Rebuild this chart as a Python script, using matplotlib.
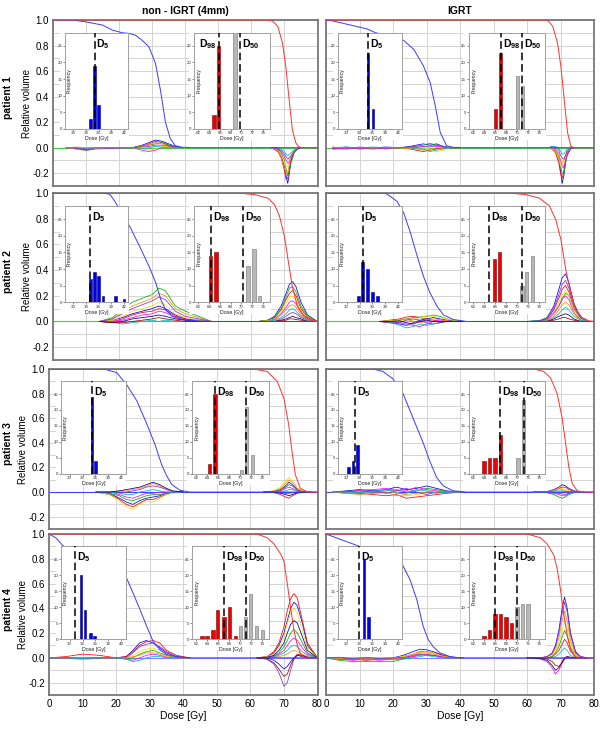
import matplotlib
matplotlib.use('Agg')
import matplotlib.pyplot as plt
from matplotlib.patches import Rectangle
from matplotlib.ticker import MultipleLocator, FixedLocator

plt.rcParams['font.family'] = ['Liberation Sans', 'DejaVu Sans']
plt.rcParams['mathtext.fontset'] = 'custom'
plt.rcParams['mathtext.rm'] = 'Liberation Sans'
plt.rcParams['mathtext.bf'] = 'Liberation Sans:bold'

# ---------------- DATA ----------------
col_titles = ['non - IGRT (4mm)', 'IGRT']
row_labels = ['patient 1', 'patient 2', 'patient 3', 'patient 4']

# ---- patient 1, non-IGRT ----
p1n_blue_x = [0, 6, 10, 15, 18, 21, 23, 25, 27, 29, 31, 32.5, 34, 35.5, 37, 39, 42, 80]
p1n_blue_y = [1, 1, 0.985, 0.96, 0.92, 0.90, 0.895, 0.88, 0.84, 0.79, 0.66, 0.45, 0.2, 0.07, 0.015, 0.004, 0, 0]
p1n_red_x = [0, 65, 66.5, 68, 69.4, 70.4, 71.4, 72.4, 73.4, 74.2, 75, 80]
p1n_red_y = [1, 1, 0.99, 0.95, 0.82, 0.64, 0.38, 0.14, 0.04, 0.01, 0, 0]
p1n_low_x = [4, 7, 10, 13, 24, 27, 29, 31, 33, 35, 37, 39]
p1n_low = [
    [0, -0.01, -0.02, 0, 0, 0.02, 0.04, 0.06, 0.05, 0.03, 0.01, 0],
    [0, -0.005, -0.01, 0, 0, 0.01, 0.03, 0.05, 0.04, 0.02, 0.005, 0],
    [0, 0, -0.015, 0, 0, 0.015, 0.02, 0.03, 0.04, 0.02, 0, 0],
    [0, -0.01, -0.025, -0.005, 0, -0.01, -0.02, -0.01, 0.01, 0.01, 0, 0],
    [0, 0, -0.01, 0, 0, -0.02, -0.03, -0.02, 0, 0.005, 0, 0],
    [0, 0.005, 0, 0, 0, 0.01, 0.02, 0.04, 0.03, 0.01, 0, 0],
    [0, -0.005, -0.02, -0.01, 0, 0.005, 0.01, 0.02, 0.02, 0.015, 0.005, 0],
    [0, 0, -0.005, 0, 0, -0.005, 0.0, 0.01, 0.005, 0, 0, 0],
]
p1n_high_x = [66, 68, 69, 70, 70.5, 71, 71.5, 72, 73, 74, 75]
p1n_high = [
    [0, -0.02, -0.06, -0.15, -0.22, -0.28, -0.2, -0.1, -0.03, -0.01, 0],
    [0, -0.03, -0.08, -0.18, -0.25, -0.24, -0.16, -0.08, -0.02, 0, 0],
    [0, -0.01, -0.04, -0.1, -0.17, -0.22, -0.18, -0.12, -0.04, -0.01, 0],
    [0, -0.02, -0.05, -0.12, -0.15, -0.14, -0.1, -0.06, -0.02, 0, 0],
    [0, -0.01, -0.03, -0.07, -0.1, -0.12, -0.11, -0.08, -0.03, -0.01, 0],
    [0, -0.02, -0.07, -0.16, -0.2, -0.19, -0.13, -0.07, -0.02, 0, 0],
    [0, -0.01, -0.02, -0.05, -0.07, -0.09, -0.08, -0.06, -0.03, -0.01, 0],
    [0, 0, -0.01, -0.03, -0.05, -0.06, -0.05, -0.04, -0.02, 0, 0],
]
p1n_d5_pos, p1n_d5_freq, p1n_d5_line = [34, 35, 36], [3, 19, 7], 35.0
p1n_d98_pos, p1n_d98_freq, p1n_d98_line = [64.9, 65.8], [4, 25], 65.8
p1n_d50_pos, p1n_d50_freq, p1n_d50_line = [68.8], [30], 69.8

# ---- patient 1, IGRT ----
p1i_blue_x = [0, 0.5, 2.5, 7.4, 12.3, 14.8, 20.2, 23.2, 26.2, 29.1, 31.1, 32.6, 34.1, 36, 38, 40, 80]
p1i_blue_y = [1, 1, 0.99, 0.96, 0.93, 0.9, 0.87, 0.84, 0.77, 0.64, 0.51, 0.33, 0.12, 0.015, 0.003, 0, 0]
p1i_red_x = [0, 65.2, 66.5, 67.7, 69.1, 70.1, 71.1, 72.1, 73.1, 74, 80]
p1i_red_y = [1, 1, 0.99, 0.95, 0.82, 0.64, 0.38, 0.12, 0.01, 0, 0]
p1i_low_x = [2, 6, 10, 14, 18, 22, 25, 27, 29, 31, 33, 35, 37, 40]
p1i_low = [
    [-0.005, 0.005, -0.005, 0, 0.005, 0, 0.01, 0.02, 0.03, 0.02, 0.03, 0.01, 0, 0],
    [0.005, -0.005, 0, -0.005, 0, 0, -0.01, -0.02, -0.03, -0.02, -0.01, 0, 0, 0],
    [-0.01, 0, -0.01, -0.005, -0.005, 0, 0.005, 0.01, 0.02, 0.035, 0.02, 0.01, 0, 0],
    [0, -0.01, -0.005, -0.01, 0, 0, -0.005, -0.01, 0, -0.01, -0.03, -0.02, 0, 0],
    [-0.005, -0.005, 0.005, 0, -0.005, 0, 0, 0.015, 0.01, 0.015, 0.01, 0.005, 0, 0],
    [0, 0, -0.01, 0, -0.01, 0, -0.01, -0.005, -0.02, -0.015, 0, -0.005, 0, 0],
    [-0.01, -0.01, -0.005, -0.01, -0.005, 0, 0.005, 0, 0.01, 0.005, 0.02, 0.01, 0, 0],
    [0, 0.005, 0, 0.005, 0, 0, 0, -0.01, -0.01, -0.03, -0.02, -0.01, 0, 0],
]
p1i_high_x = [67, 68.5, 69.5, 70, 70.5, 71, 71.5, 72, 73, 74]
p1i_high = [
    [0, -0.03, -0.1, -0.18, -0.28, -0.22, -0.12, -0.05, -0.01, 0],
    [0, -0.04, -0.12, -0.2, -0.24, -0.18, -0.1, -0.04, -0.01, 0],
    [0, -0.02, -0.08, -0.15, -0.2, -0.2, -0.12, -0.06, -0.01, 0],
    [0, -0.03, -0.09, -0.14, -0.16, -0.14, -0.08, -0.03, 0, 0],
    [0, -0.01, -0.05, -0.1, -0.14, -0.16, -0.1, -0.05, -0.01, 0],
    [0, -0.02, -0.06, -0.11, -0.12, -0.1, -0.06, -0.02, 0, 0],
    [0.01, 0.005, -0.02, -0.06, -0.08, -0.09, -0.06, -0.03, 0, 0],
    [0.005, 0.01, 0.0, -0.03, -0.05, -0.05, -0.03, -0.01, 0, 0],
]
p1i_d5_pos, p1i_d5_freq, p1i_d5_line = [35.0, 36.1], [23, 6], 35.0
p1i_d98_pos, p1i_d98_freq, p1i_d98_line = [66.1, 67.0], [6, 23], 67.1
p1i_d50_pos, p1i_d50_freq, p1i_d50_line = [70.1, 71.0], [16, 13], 71.0

# ---- patient 2, non-IGRT ----
p2n_blue_x = [0, 15.2, 17.2, 18.7, 20.2, 23.2, 26.2, 29.2, 31.1, 32.6, 34.1, 36.1, 39.1, 43, 48, 80]
p2n_blue_y = [1, 1, 0.99, 0.935, 0.87, 0.74, 0.585, 0.42, 0.30, 0.17, 0.09, 0.04, 0.016, 0.005, 0, 0]
p2n_red_x = [0, 56, 61, 65, 67, 68.5, 70, 71.4, 72.4, 73.9, 75.9, 77.9, 80]
p2n_red_y = [1, 1, 0.987, 0.96, 0.91, 0.82, 0.66, 0.43, 0.27, 0.12, 0.04, 0.01, 0]
p2n_low_x = [14, 18, 21, 24, 27, 30, 32, 34, 37, 40, 44, 48]
p2n_low = [
    [0, 0.01, 0.03, 0.06, 0.08, 0.1, 0.12, 0.1, 0.05, 0.02, 0.01, 0],
    [0, 0.0, 0.02, 0.05, 0.07, 0.08, 0.1, 0.09, 0.04, 0.02, 0, 0],
    [0, 0.03, 0.1, 0.15, 0.18, 0.21, 0.26, 0.24, 0.12, 0.08, 0.04, 0],
    [0, 0.01, 0.04, 0.08, 0.1, 0.12, 0.15, 0.13, 0.06, 0.03, 0.01, 0],
    [0, 0, 0.01, 0.03, 0.05, 0.06, 0.08, 0.07, 0.03, 0.01, 0, 0],
    [0, 0.02, 0.08, 0.12, 0.15, 0.18, 0.22, 0.2, 0.1, 0.06, 0.03, 0],
    [0, 0.02, 0.06, 0.1, 0.13, 0.16, 0.19, 0.17, 0.08, 0.04, 0.02, 0],
    [0, -0.005, -0.02, -0.01, 0, 0.01, 0.0, 0.01, 0, 0, 0, 0],
    [0, -0.01, 0.0, 0.02, 0.03, 0.04, 0.05, 0.04, 0.02, 0.01, 0, 0],
    [0, -0.01, -0.01, 0.0, 0.01, 0.02, 0.03, 0.02, 0.01, 0, 0, 0],
]
p2n_high_x = [62, 65, 67, 69, 70.5, 71.5, 72.5, 73.5, 75, 77, 80]
p2n_high = [
    [0, 0.01, 0.04, 0.12, 0.22, 0.29, 0.31, 0.27, 0.15, 0.05, 0],
    [0, 0.01, 0.03, 0.09, 0.17, 0.22, 0.24, 0.2, 0.1, 0.03, 0],
    [0, 0.01, 0.03, 0.1, 0.19, 0.26, 0.27, 0.23, 0.12, 0.04, 0],
    [0, 0.005, 0.02, 0.07, 0.14, 0.19, 0.2, 0.17, 0.08, 0.02, 0],
    [0, 0, 0.02, 0.06, 0.11, 0.15, 0.16, 0.14, 0.07, 0.02, 0],
    [0, 0, 0.01, 0.05, 0.09, 0.12, 0.13, 0.11, 0.05, 0.01, 0],
    [0, 0, 0.0, 0.02, 0.04, 0.06, 0.07, 0.06, 0.03, 0.01, 0],
    [0, 0, 0.01, 0.03, 0.06, 0.09, 0.1, 0.08, 0.04, 0.01, 0],
    [0, 0, 0, 0.01, 0.02, 0.03, 0.04, 0.03, 0.02, 0, 0],
    [0, 0, 0, 0.005, 0.01, 0.02, 0.02, 0.015, 0.01, 0, 0],
]
p2n_d5_pos, p2n_d5_freq, p2n_d5_line = [34, 35, 36, 37, 40, 42], [7, 9, 8, 2, 2, 1], 34.0
p2n_d98_pos, p2n_d98_freq, p2n_d98_line = [64.3, 65.3], [14, 15], 64.3
p2n_d50_pos, p2n_d50_freq, p2n_d50_line = [71.2, 72.3, 73.3], [11, 16, 2], 70.3

# ---- patient 2, IGRT ----
p2i_blue_x = [0, 17.3, 18.3, 21.2, 23.2, 25.2, 27.2, 29.1, 31.1, 33.1, 35.1, 38, 42, 80]
p2i_blue_y = [1, 1, 0.99, 0.935, 0.845, 0.69, 0.51, 0.35, 0.22, 0.12, 0.05, 0.015, 0, 0]
p2i_red_x = [0, 54.8, 59.8, 63.7, 66.7, 68.6, 70.1, 71.6, 73.1, 74.6, 76.5, 78.5, 80]
p2i_red_y = [1, 1, 0.987, 0.96, 0.9, 0.79, 0.64, 0.4, 0.22, 0.09, 0.03, 0.005, 0]
p2i_low_x = [16, 19, 22, 24, 26, 28, 30, 32, 34, 36, 38, 41]
p2i_low = [
    [0, -0.01, -0.02, -0.03, -0.01, 0.01, 0.02, 0.03, 0.02, 0.01, 0.005, 0],
    [0, 0.01, 0.02, 0.035, 0.04, 0.03, 0.02, 0.01, 0.0, 0.0, 0, 0],
    [0, 0.005, 0.01, 0.02, 0.03, 0.035, 0.04, 0.05, 0.04, 0.02, 0.005, 0],
    [0, 0.005, 0.01, 0.0, 0.01, 0.03, 0.045, 0.04, 0.03, 0.02, 0.01, 0],
    [0, -0.01, -0.01, -0.02, -0.03, -0.04, -0.02, 0.0, 0.01, 0.005, 0, 0],
    [0, 0, 0.015, 0.02, 0.0, -0.01, 0.0, 0.02, 0.015, 0.005, 0, 0],
    [0, -0.005, -0.01, 0.01, 0.02, 0.01, -0.01, -0.02, -0.01, 0, 0, 0],
    [0, -0.005, -0.03, -0.05, -0.04, -0.02, -0.03, -0.02, -0.01, 0, 0, 0],
    [0, 0, 0.005, -0.01, -0.02, 0.0, 0.01, 0.0, -0.005, 0, 0, 0],
]
p2i_high_x = [60, 64, 66, 68, 69.5, 70.5, 71.5, 72.5, 74, 76, 78]
p2i_high = [
    [0, 0.005, 0.03, 0.12, 0.25, 0.34, 0.37, 0.3, 0.14, 0.03, 0],
    [0, 0, 0.02, 0.09, 0.18, 0.25, 0.28, 0.23, 0.1, 0.02, 0],
    [0, 0.01, 0.03, 0.07, 0.12, 0.18, 0.22, 0.2, 0.1, 0.02, 0],
    [0, 0, 0.015, 0.07, 0.15, 0.21, 0.24, 0.2, 0.09, 0.02, 0],
    [0, 0, 0.01, 0.06, 0.12, 0.17, 0.2, 0.17, 0.07, 0.01, 0],
    [0, 0, 0.01, 0.04, 0.09, 0.13, 0.15, 0.13, 0.06, 0.01, 0],
    [0, 0.005, 0.02, 0.1, 0.21, 0.29, 0.32, 0.26, 0.12, 0.03, 0],
    [0, 0, 0.005, 0.03, 0.06, 0.09, 0.11, 0.09, 0.04, 0.01, 0],
    [0, 0, 0, 0.02, 0.04, 0.05, 0.06, 0.05, 0.02, 0, 0],
    [0, 0, 0, 0.01, 0.02, 0.03, 0.03, 0.02, 0.01, 0, 0],
]
p2i_d5_pos, p2i_d5_freq, p2i_d5_line = [32.7, 33.7, 34.9, 36.0, 37.2], [2, 12, 10, 3, 2], 33.7
p2i_d98_pos, p2i_d98_freq, p2i_d98_line = [65.9, 66.8], [13, 15], 64.9
p2i_d50_pos, p2i_d50_freq, p2i_d50_line = [70.9, 71.8, 72.8], [5, 9, 14], 70.9

# ---- patient 3, non-IGRT ----
p3n_blue_x = [0, 14.7, 17, 20.2, 23.2, 26.2, 29.2, 31.6, 33.6, 35.1, 36.6, 39.1, 42, 80]
p3n_blue_y = [1, 1, 0.995, 0.97, 0.87, 0.74, 0.55, 0.385, 0.22, 0.13, 0.06, 0.014, 0, 0]
p3n_red_x = [0, 56, 62, 65, 68, 70, 71.4, 72.4, 73.4, 74.9, 77, 80]
p3n_red_y = [1, 1, 0.995, 0.98, 0.9, 0.76, 0.55, 0.33, 0.14, 0.03, 0, 0]
p3n_low_x = [14, 18, 21, 23, 25, 27, 29, 31, 33, 35, 37, 40]
p3n_low = [
    [0, -0.01, -0.05, -0.08, -0.1, -0.07, -0.05, -0.04, -0.03, -0.01, 0, 0],
    [0, -0.02, -0.06, -0.1, -0.12, -0.09, -0.06, -0.06, -0.04, -0.02, 0, 0],
    [0, -0.01, -0.03, -0.06, -0.07, -0.05, -0.03, -0.02, -0.02, -0.01, 0, 0],
    [0, -0.02, -0.07, -0.12, -0.14, -0.1, -0.07, -0.08, -0.05, -0.02, -0.01, 0],
    [0, 0, -0.02, -0.04, -0.05, -0.03, -0.01, -0.01, 0, 0, 0, 0],
    [0, 0, 0.01, 0.01, 0.02, 0.03, 0.05, 0.07, 0.05, 0.02, 0.005, 0],
    [0, 0, 0.0, 0.0, 0.01, 0.02, 0.04, 0.05, 0.04, 0.02, 0, 0],
    [0, 0, -0.01, -0.02, -0.02, 0.0, 0.01, 0.02, 0.01, 0, 0, 0],
    [0, 0, 0.01, 0.02, 0.03, 0.04, 0.06, 0.08, 0.06, 0.03, 0.01, 0],
]
p3n_high_x = [64, 67, 69, 70.5, 71.5, 72.5, 74, 76, 78]
p3n_high = [
    [0, 0.005, 0.02, 0.05, 0.08, 0.06, 0.02, 0, 0],
    [0, -0.005, -0.02, -0.04, -0.05, -0.03, -0.01, 0, 0],
    [0, 0, 0.015, 0.04, 0.06, 0.05, 0.015, 0, 0],
    [0, 0.01, 0.04, 0.09, 0.12, 0.09, 0.03, 0.005, 0],
    [0, 0, 0.01, 0.03, 0.04, 0.03, 0.01, 0, 0],
    [0, 0.01, 0.03, 0.07, 0.1, 0.08, 0.03, 0.005, 0],
    [0, 0, -0.005, -0.01, -0.01, -0.005, 0, 0, 0],
    [0, 0, 0.005, 0.01, 0.02, 0.02, 0.005, 0, 0],
    [0, 0, -0.01, -0.02, -0.03, -0.02, -0.005, 0, 0],
]
p3n_d5_pos, p3n_d5_freq, p3n_d5_line = [35.2, 36.0], [24, 4], 35.2
p3n_d98_pos, p3n_d98_freq, p3n_d98_line = [64.4, 65.4], [3, 25], 65.4
p3n_d50_pos, p3n_d50_freq, p3n_d50_line = [70.2, 71.1, 72.2], [1, 21, 6], 71.1

# ---- patient 3, IGRT ----
p3i_blue_x = [0, 14, 17, 20, 23, 26, 29, 31, 33, 35, 38, 42, 80]
p3i_blue_y = [1, 1, 0.98, 0.92, 0.8, 0.6, 0.4, 0.25, 0.12, 0.05, 0.01, 0, 0]
p3i_red_x = [0, 62, 65, 67, 69, 70.5, 71.5, 72.5, 73.5, 75, 77, 80]
p3i_red_y = [1, 1, 0.98, 0.93, 0.8, 0.6, 0.4, 0.2, 0.07, 0.01, 0, 0]
p3i_low_x = [2, 6, 10, 14, 18, 21, 24, 27, 30, 33, 36, 40]
p3i_low = [
    [0, 0.01, 0.02, 0.01, 0.02, 0.04, 0.02, 0.03, 0.05, 0.03, 0.01, 0],
    [0, -0.01, -0.01, -0.02, -0.03, -0.02, -0.05, -0.04, -0.03, -0.02, -0.01, 0],
    [0, 0.005, 0.01, 0.0, 0.01, 0.02, 0.0, 0.01, 0.03, 0.02, 0.005, 0],
    [0, -0.005, 0.0, -0.01, -0.01, 0.0, -0.03, -0.02, -0.01, -0.005, 0, 0],
    [0, 0.0, 0.015, 0.02, 0.03, 0.01, 0.01, 0.04, 0.02, 0.01, 0, 0],
    [0, -0.01, -0.02, -0.01, 0.0, -0.03, -0.02, -0.01, 0.0, 0.01, 0, 0],
    [0, 0.005, 0.0, 0.01, -0.01, 0.01, 0.03, 0.0, -0.02, 0.0, 0, 0],
    [0, 0, -0.005, 0.005, 0.02, -0.01, -0.01, 0.02, 0.01, -0.01, 0, 0],
]
p3i_high_x = [62, 66, 68, 69.5, 70.5, 71.5, 72.5, 74, 77]
p3i_high = [
    [0, 0.005, 0.02, 0.04, 0.06, 0.05, 0.03, 0.01, 0],
    [0, 0.0, 0.01, 0.03, 0.04, 0.04, 0.02, 0.005, 0],
    [0, -0.005, -0.02, -0.04, -0.05, -0.04, -0.02, -0.005, 0],
    [0, 0.0, 0.005, 0.02, 0.03, 0.02, 0.01, 0, 0],
    [0, -0.005, -0.01, -0.02, -0.03, -0.03, -0.01, 0, 0],
    [0, 0.0, 0.015, 0.03, 0.02, 0.01, 0.005, 0, 0],
    [0, 0, -0.005, -0.01, -0.015, -0.02, -0.01, 0, 0],
    [0, 0, 0.01, 0.01, 0.01, 0.005, 0, 0, 0],
]
p3i_d5_pos, p3i_d5_freq, p3i_d5_line = [30.5, 31.5, 32.5], [2, 4, 9], 32.0
p3i_d98_pos, p3i_d98_freq, p3i_d98_line = [64.0, 65.0, 66.0, 67.0], [4, 5, 5, 12], 67.0
p3i_d50_pos, p3i_d50_freq, p3i_d50_line = [70.2, 71.2], [5, 23], 71.2

# ---- patient 4, non-IGRT ----
p4n_blue_x = [0, 2, 4, 6, 10, 15, 20, 23.1, 25.1, 27.1, 29.1, 31, 33, 35, 38, 42, 80]
p4n_blue_y = [1, 0.97, 0.91, 0.87, 0.84, 0.79, 0.72, 0.645, 0.52, 0.39, 0.255, 0.134, 0.067, 0.027, 0.008, 0, 0]
p4n_red_x = [0, 62, 65, 67, 69, 70, 71, 72, 73, 74, 75, 76, 80]
p4n_red_y = [1, 1, 0.97, 0.92, 0.84, 0.78, 0.6, 0.4, 0.22, 0.1, 0.03, 0, 0]
p4n_low_x = [0, 5, 10, 15, 20, 23, 25, 27, 29, 31, 33, 35, 38, 42]
p4n_low = [
    [0, 0, 0, 0, 0, 0.01, 0.06, 0.12, 0.14, 0.12, 0.08, 0.04, 0.01, 0],
    [0, 0.01, 0.03, 0.02, 0.0, 0.01, 0.05, 0.1, 0.13, 0.14, 0.12, 0.06, 0.02, 0],
    [0, -0.005, -0.01, -0.005, 0, -0.01, 0.0, 0.03, 0.05, 0.06, 0.04, 0.02, 0, 0],
    [0, 0, 0, 0, 0, 0.0, 0.02, 0.05, 0.07, 0.08, 0.06, 0.03, 0.005, 0],
    [0, 0, 0, 0, 0, -0.01, -0.02, 0.0, 0.02, 0.03, 0.02, 0.005, 0, 0],
    [0, 0, 0, 0, 0, -0.005, 0.01, 0.02, 0.04, 0.04, 0.03, 0.01, 0, 0],
    [0, 0, -0.005, 0, 0, 0.0, 0.04, 0.09, 0.11, 0.12, 0.09, 0.05, 0.01, 0],
    [0, 0, -0.005, 0, 0, -0.01, -0.03, -0.02, 0.0, 0.01, 0.01, 0, 0, 0],
]
p4n_high_x = [62, 65, 67, 68.5, 70, 71, 72, 73, 74, 75.5, 77, 80]
p4n_high = [
    [0, 0.01, 0.04, 0.1, 0.2, 0.3, 0.4, 0.45, 0.42, 0.28, 0.1, 0],
    [0, 0.01, 0.05, 0.12, 0.25, 0.38, 0.48, 0.52, 0.48, 0.3, 0.12, 0],
    [0, 0, 0.015, 0.04, 0.09, 0.14, 0.2, 0.23, 0.2, 0.12, 0.04, 0],
    [0, 0.01, 0.03, 0.08, 0.17, 0.28, 0.36, 0.4, 0.36, 0.22, 0.08, 0],
    [0, 0, 0.01, 0.03, 0.06, 0.1, 0.14, 0.16, 0.14, 0.08, 0.03, 0],
    [0, 0, 0, 0.01, 0.02, 0.03, 0.05, 0.06, 0.05, 0.03, 0.01, 0],
    [0, -0.01, -0.05, -0.12, -0.23, -0.2, -0.1, -0.01, 0.02, 0.02, 0.005, 0],
    [0, 0, 0.005, 0.02, 0.04, 0.06, 0.09, 0.1, 0.09, 0.05, 0.02, 0],
    [0, 0.005, 0.02, 0.06, 0.12, 0.2, 0.27, 0.3, 0.28, 0.17, 0.06, 0],
    [0, -0.01, -0.04, -0.09, -0.15, -0.13, -0.06, 0.0, 0.03, 0.02, 0.005, 0],
    [0, 0, -0.02, -0.05, -0.09, -0.07, -0.03, 0.0, 0.02, 0.01, 0, 0],
]
p4n_d5_pos, p4n_d5_freq, p4n_d5_line = [32.6, 33.6, 34.8, 35.8], [20, 9, 2, 1], 31.3
p4n_d98_pos = [63.0, 63.9, 65.0, 65.9, 67.0, 68.0, 69.1]
p4n_d98_freq = [1, 1, 3, 9, 7, 10, 1]
p4n_d98_line = 67.0
p4n_d50_pos, p4n_d50_freq, p4n_d50_line = [70.0, 71.0, 71.9, 73.0, 74.0], [4, 7, 14, 4, 3], 71.0

# ---- patient 4, IGRT ----
p4i_blue_x = [0, 5, 10, 15, 20, 22.1, 25.1, 27.1, 29, 30.5, 32, 34, 37, 40, 80]
p4i_blue_y = [1, 0.95, 0.9, 0.86, 0.82, 0.79, 0.63, 0.47, 0.255, 0.148, 0.09, 0.04, 0.01, 0, 0]
p4i_red_x = [0, 60, 64, 66, 68, 69, 70, 71, 72, 73, 74, 75, 80]
p4i_red_y = [1, 1, 0.97, 0.92, 0.83, 0.72, 0.55, 0.35, 0.18, 0.07, 0.02, 0, 0]
p4i_low_x = [0, 4, 8, 12, 16, 20, 23, 26, 28, 30, 32, 35, 38, 41]
p4i_low = [
    [0, 0.0, -0.01, 0.0, -0.005, 0.0, 0.02, 0.05, 0.07, 0.065, 0.05, 0.02, 0.005, 0],
    [0, -0.01, -0.01, -0.02, -0.01, -0.01, 0.01, 0.03, 0.05, 0.05, 0.04, 0.02, 0, 0],
    [0, -0.02, -0.03, -0.03, -0.03, -0.03, -0.01, 0.01, 0.03, 0.03, 0.02, 0.01, 0, 0],
    [0, 0.0, 0.005, 0.0, 0.005, 0.0, 0.01, 0.03, 0.045, 0.05, 0.04, 0.01, 0, 0],
    [0, -0.01, -0.02, -0.01, -0.02, -0.01, 0.0, 0.01, 0.02, 0.025, 0.02, 0.005, 0, 0],
    [0, -0.005, 0.0, -0.01, 0.0, -0.005, 0.0, 0.02, 0.04, 0.04, 0.03, 0.015, 0, 0],
    [0, 0.005, -0.005, 0.005, -0.005, 0.0, 0.0, 0.02, 0.03, 0.02, 0.02, 0.005, 0, 0],
    [0, -0.015, -0.01, -0.015, -0.01, -0.015, -0.01, 0.0, 0.01, 0.02, 0.01, 0, 0, 0],
]
p4i_high_x = [60, 64, 66, 67.5, 68.5, 69.5, 70.5, 71.2, 72, 73, 74.5, 76, 78]
p4i_high = [
    [0, 0, 0.01, 0.04, 0.1, 0.22, 0.4, 0.49, 0.4, 0.2, 0.05, 0.01, 0],
    [0, 0, 0, 0.01, 0.03, 0.06, 0.11, 0.15, 0.12, 0.05, 0.01, 0, 0],
    [0, 0, 0, 0.015, 0.04, 0.09, 0.17, 0.22, 0.18, 0.08, 0.02, 0, 0],
    [0, 0, 0.005, 0.02, 0.05, 0.12, 0.22, 0.3, 0.24, 0.11, 0.02, 0, 0],
    [0, -0.01, -0.03, -0.08, -0.13, -0.1, -0.04, 0.0, 0.01, 0.0, 0, 0, 0],
    [0, 0, 0.01, 0.03, 0.07, 0.16, 0.3, 0.38, 0.3, 0.14, 0.03, 0, 0],
    [0, 0, 0.01, 0.035, 0.09, 0.2, 0.36, 0.45, 0.37, 0.18, 0.04, 0.01, 0],
    [0, 0, 0, 0.005, 0.01, 0.03, 0.06, 0.08, 0.06, 0.02, 0, 0, 0],
    [0, -0.005, -0.02, -0.06, -0.1, -0.08, -0.03, 0.0, 0.01, 0.005, 0, 0, 0],
    [0, 0, -0.01, -0.03, -0.06, -0.07, -0.04, -0.01, 0.0, 0.0, 0, 0, 0],
]
p4i_d5_pos, p4i_d5_freq, p4i_d5_line = [34.0, 35.1], [25, 7], 32.9
p4i_d98_pos, p4i_d98_freq, p4i_d98_line = [64, 65, 66, 67, 68, 69], [1, 3, 8, 8, 7, 5], 66.0
p4i_d50_pos, p4i_d50_freq, p4i_d50_line = [70, 71, 72], [10, 11, 11], 70.0

# ---------------- LAYOUT / STYLE ----------------
W, H = 600, 746
LEFT_X0 = [53, 53, 49, 49]
LEFT_X1 = 317.5
RIGHT_PX = (326, 594)
ROWS_PX = [(20, 186), (193, 360), (369, 529), (534, 695)]
DIFF_COLORS = ['#0000ff', '#ff0000', '#00b000', '#f0e000', '#ff00ff',
               '#ff8c00', '#8a2be2', '#00b8c8', '#000080', '#a00000']
zero_colors = ['#40d040', '#40d040', '#40d040', '#40d040',
               '#4040ff', '#4040ff', '#8080ff', '#8080ff']

panels = [
    (p1n_blue_x, p1n_blue_y, p1n_red_x, p1n_red_y, p1n_low_x, p1n_low, p1n_high_x, p1n_high,
     (p1n_d5_pos, p1n_d5_freq, p1n_d5_line), (p1n_d98_pos, p1n_d98_freq, p1n_d98_line),
     (p1n_d50_pos, p1n_d50_freq, p1n_d50_line), 'left'),
    (p1i_blue_x, p1i_blue_y, p1i_red_x, p1i_red_y, p1i_low_x, p1i_low, p1i_high_x, p1i_high,
     (p1i_d5_pos, p1i_d5_freq, p1i_d5_line), (p1i_d98_pos, p1i_d98_freq, p1i_d98_line),
     (p1i_d50_pos, p1i_d50_freq, p1i_d50_line), 'right'),
    (p2n_blue_x, p2n_blue_y, p2n_red_x, p2n_red_y, p2n_low_x, p2n_low, p2n_high_x, p2n_high,
     (p2n_d5_pos, p2n_d5_freq, p2n_d5_line), (p2n_d98_pos, p2n_d98_freq, p2n_d98_line),
     (p2n_d50_pos, p2n_d50_freq, p2n_d50_line), 'right'),
    (p2i_blue_x, p2i_blue_y, p2i_red_x, p2i_red_y, p2i_low_x, p2i_low, p2i_high_x, p2i_high,
     (p2i_d5_pos, p2i_d5_freq, p2i_d5_line), (p2i_d98_pos, p2i_d98_freq, p2i_d98_line),
     (p2i_d50_pos, p2i_d50_freq, p2i_d50_line), 'right'),
    (p3n_blue_x, p3n_blue_y, p3n_red_x, p3n_red_y, p3n_low_x, p3n_low, p3n_high_x, p3n_high,
     (p3n_d5_pos, p3n_d5_freq, p3n_d5_line), (p3n_d98_pos, p3n_d98_freq, p3n_d98_line),
     (p3n_d50_pos, p3n_d50_freq, p3n_d50_line), 'right'),
    (p3i_blue_x, p3i_blue_y, p3i_red_x, p3i_red_y, p3i_low_x, p3i_low, p3i_high_x, p3i_high,
     (p3i_d5_pos, p3i_d5_freq, p3i_d5_line), (p3i_d98_pos, p3i_d98_freq, p3i_d98_line),
     (p3i_d50_pos, p3i_d50_freq, p3i_d50_line), 'right'),
    (p4n_blue_x, p4n_blue_y, p4n_red_x, p4n_red_y, p4n_low_x, p4n_low, p4n_high_x, p4n_high,
     (p4n_d5_pos, p4n_d5_freq, p4n_d5_line), (p4n_d98_pos, p4n_d98_freq, p4n_d98_line),
     (p4n_d50_pos, p4n_d50_freq, p4n_d50_line), 'right'),
    (p4i_blue_x, p4i_blue_y, p4i_red_x, p4i_red_y, p4i_low_x, p4i_low, p4i_high_x, p4i_high,
     (p4i_d5_pos, p4i_d5_freq, p4i_d5_line), (p4i_d98_pos, p4i_d98_freq, p4i_d98_line),
     (p4i_d50_pos, p4i_d50_freq, p4i_d50_line), 'right'),
]

fig = plt.figure(figsize=(W / 100, H / 100), dpi=100)


def px_rect(x0, x1, y0, y1):
    return [x0 / W, 1 - y1 / H, (x1 - x0) / W, (y1 - y0) / H]


def style_inset(ia, xlim, xticks):
    ia.set_xlim(*xlim)
    ia.set_ylim(0, 29)
    ia.set_xticks(xticks)
    ia.set_yticks([0, 5, 10, 15, 20, 25])
    ia.tick_params(labelsize=3.2, length=1.2, width=0.4, pad=0.8, colors='#303030')
    for s in ia.spines.values():
        s.set_color('#a0a0a0')
        s.set_linewidth(0.7)
    ia.set_xlabel('Dose [Gy]', fontsize=3.8, labelpad=0.6, color='#202020')
    ia.set_ylabel('Frequency', fontsize=3.8, color='#202020')
    ia.yaxis.set_label_coords(0.1, 0.5)
    ia.set_facecolor('white')


def dline(ia, x, label, side):
    ia.axvline(x, color='black', lw=1.1, dashes=(5, 2.5), zorder=4)
    if side == 'left':
        ia.text(x - 0.35, 25.6, label, ha='right', va='center', fontsize=7.5, zorder=6)
    else:
        ia.text(x + 0.35, 25.6, label, ha='left', va='center', fontsize=7.5, zorder=6)


for k, pan in enumerate(panels):
    (bx, by, rx, ry, lx, lcurves, hx, hcurves, d5, d98, d50, d98side) = pan
    r, c = divmod(k, 2)
    xa0, xa1 = (LEFT_X0[r], LEFT_X1) if c == 0 else RIGHT_PX
    ax = fig.add_axes(px_rect(xa0, xa1, ROWS_PX[r][0], ROWS_PX[r][1]))
    ax.set_xlim(0, 80)
    ax.set_ylim(-0.3, 1.0)
    ax.xaxis.set_major_locator(MultipleLocator(10))
    ax.yaxis.set_major_locator(FixedLocator([-0.2, 0.0, 0.2, 0.4, 0.6, 0.8, 1.0]))
    ax.yaxis.set_minor_locator(FixedLocator([-0.3, -0.1, 0.1, 0.3, 0.5, 0.7, 0.9]))
    ax.grid(True, which='both', color='#d4d4d4', lw=0.7)
    ax.set_axisbelow(True)
    ax.tick_params(which='both', length=0, labelsize=7, pad=3)
    ax.yaxis.set_major_formatter(plt.FuncFormatter(lambda v, p: f'{v:.1f}'))
    for s in ax.spines.values():
        s.set_color('#777777')
        s.set_linewidth(1.3)
    if c == 1:
        ax.set_yticklabels([])
    else:
        ax.set_ylabel('Relative volume', fontsize=7, labelpad=0.5)
        fig.text(8 / W, 1 - ((ROWS_PX[r][0] + ROWS_PX[r][1]) / 2 - 5) / H, row_labels[r],
                 rotation=90, ha='center', va='center', fontsize=7.5, fontweight='bold')
    if r == 3:
        ax.set_xlabel('Dose [Gy]', fontsize=7.5, labelpad=1)
    else:
        ax.set_xticklabels([])
    if r == 0:
        ax.set_title(col_titles[c], fontsize=7.5, fontweight='bold', pad=4)

    ax.axhline(0, color=zero_colors[k], lw=0.8, zorder=1.5)
    for i, cv in enumerate(lcurves):
        ax.plot(lx, cv, color=DIFF_COLORS[i % len(DIFF_COLORS)], lw=0.55, zorder=2)
    for i, cv in enumerate(hcurves):
        ax.plot(hx, cv, color=DIFF_COLORS[i % len(DIFF_COLORS)], lw=0.55, zorder=2)
    ax.plot(bx, by, color='#3a3aff', lw=0.7, zorder=3)
    ax.plot(rx, ry, color='#ff3030', lw=0.7, zorder=3)

    # white backgrounds behind inset label areas
    y0, y1 = 0.15, 0.90
    for (xa, xb) in [(2.0, 23.0), (41.0, 65.8)]:
        ax.add_patch(Rectangle((xa, y0 - 0.09), xb - xa, y1 - y0 + 0.09,
                               facecolor='white', edgecolor='none', zorder=4))

    ia = ax.inset_axes([3.6, y0, 22.8 - 3.6, y1 - y0], transform=ax.transData, zorder=5)
    style_inset(ia, (28, 43), [30, 33, 36, 39, 42])
    ia.bar(d5[0], d5[1], width=0.6, color='#0000ee', edgecolor='#000080', lw=0.4, zorder=3)
    dline(ia, d5[2], r'$\mathbf{D_5}$', 'right')

    ib = ax.inset_axes([42.6, y0, 65.5 - 42.6, y1 - y0], transform=ax.transData, zorder=5)
    style_inset(ib, (61.2, 75.2), [62, 64, 66, 68, 70, 72, 74])
    ib.bar(d98[0], d98[1], width=0.62, color='#ee0000', edgecolor='#800000', lw=0.4, zorder=3)
    ib.bar(d50[0], d50[1], width=0.62, color='#b8b8b8', edgecolor='#707070', lw=0.4, zorder=3)
    dline(ib, d98[2], r'$\mathbf{D_{98}}$', d98side)
    dline(ib, d50[2], r'$\mathbf{D_{50}}$', 'right')

fig.savefig('out.png', dpi=100)
